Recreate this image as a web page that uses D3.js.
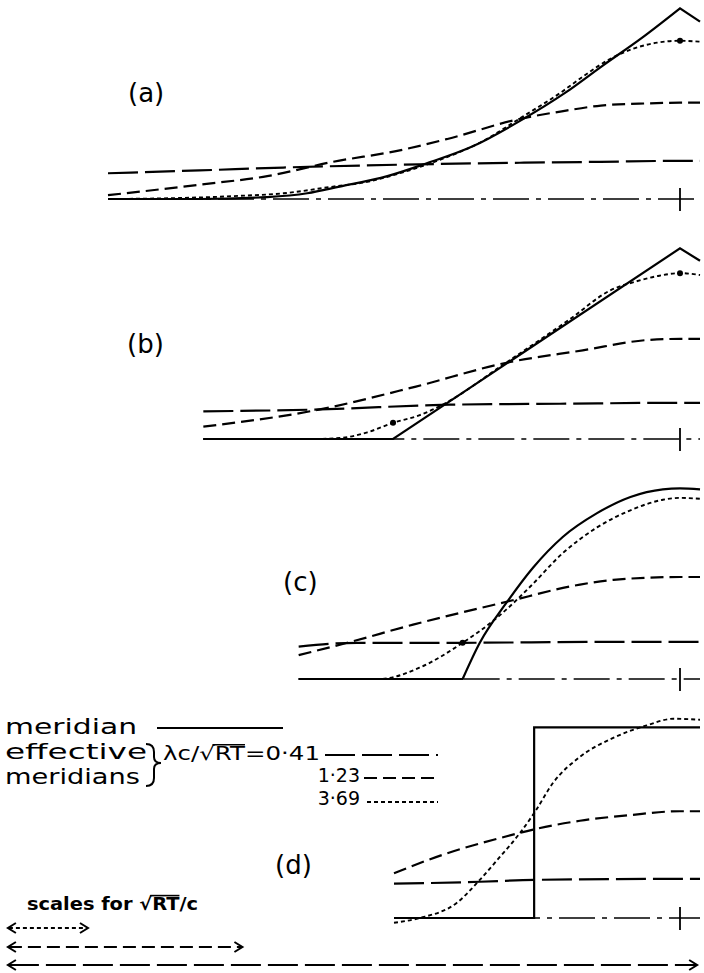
<!DOCTYPE html>
<html><head><meta charset="utf-8">
<script src="https://cdn.jsdelivr.net/npm/d3@7"></script>
<style>html,body{margin:0;padding:0;background:#fff}svg{display:block}</style>
</head><body>
<script>
// ---------- data (x: distance from panel tick, y: height above base line; same unit on both axes) ----------
const panelLabels = ["(a)", "(b)", "(c)", "(d)"];
const seriesNames = ["meridian", "0·41", "1·23", "3·69"];
const legendValues = ["0·41", "1·23", "3·69"];

const meridianA = [[-6,0],[-5.04,0],[-4.33,0.02],[-3.91,0.06],[-3.57,0.13],[-3.07,0.24],[-2.67,0.37],[-2.18,0.55],[-1.66,0.83],[-1.21,1.11],[-0.81,1.40],[-0.40,1.69],[0,2.0],[0.21,1.86]];
const long041A = [[-6,0.27],[-5.04,0.30],[-4.16,0.33],[-2.94,0.36],[-1.68,0.38],[-0.84,0.39],[0,0.40],[0.21,0.40]];
const dash123A = [[-6,0.04],[-5.04,0.15],[-4.33,0.24],[-3.64,0.39],[-2.94,0.51],[-2.44,0.63],[-1.68,0.84],[-1.24,0.92],[-0.83,0.98],[-0.43,1.0],[0,1.01],[0.21,1.01]];
const dot369A = [[-6,0],[-5.25,0.01],[-4.69,0.03],[-4.16,0.06],[-3.64,0.13],[-3.28,0.18],[-2.94,0.27],[-2.52,0.41],[-2.10,0.59],[-1.64,0.87],[-1.26,1.11],[-1.01,1.29],[-0.75,1.46],[-0.48,1.58],[-0.24,1.64],[0,1.66],[0.21,1.65]];

const meridianB = [[-5,0],[-3.01,0],[0,2.0],[0.21,1.87]];
const long041B = [[-5,0.29],[-3.77,0.31],[-2.42,0.36],[-1.26,0.37],[0,0.38],[0.21,0.38]];
const dash123B = [[-5,0.13],[-3.83,0.30],[-2.77,0.55],[-1.82,0.80],[-1.02,0.93],[-0.32,1.04],[0,1.05],[0.21,1.05]];
const dot369B = [[-5,0],[-3.85,0],[-3.57,0.01],[-3.28,0.07],[-3.01,0.17],[-2.73,0.25],[-2.49,0.36],[-1.84,0.79],[-1.15,1.26],[-0.73,1.56],[-0.47,1.65],[-0.23,1.71],[0,1.74],[0.21,1.72]];

const meridianC = [[-4,0],[-2.28,0],[-2.10,0.38],[-1.82,0.80],[-1.54,1.17],[-1.23,1.49],[-0.87,1.74],[-0.52,1.91],[-0.18,1.99],[0,2.0],[0.21,1.99]];
const long041C = [[-4,0.34],[-3.39,0.38],[-2.28,0.38],[-0.84,0.39],[0,0.39],[0.21,0.39]];
const dash123C = [[-4,0.25],[-3.49,0.38],[-2.80,0.57],[-1.82,0.81],[-1.05,0.99],[-0.70,1.04],[0,1.07],[0.21,1.07]];
const dot369C = [[-4,0],[-3.15,0],[-2.73,0.12],[-2.28,0.38],[-1.96,0.61],[-1.82,0.73],[-1.57,0.97],[-1.23,1.32],[-0.87,1.59],[-0.52,1.77],[-0.18,1.88],[0,1.90],[0.21,1.89]];

const meridianD = [[-3,0],[-1.53,0],[-1.53,2.0],[0.21,2.0]];
const long041D = [[-3,0.36],[-2.10,0.38],[-1.53,0.40],[0,0.41],[0.21,0.41]];
const dash123D = [[-3,0.47],[-2.44,0.68],[-1.92,0.83],[-1.53,0.93],[-1.05,1.02],[-0.52,1.08],[0,1.12],[0.21,1.12]];
const dot369D = [[-3,-0.05],[-2.73,0],[-2.34,0.16],[-2.10,0.40],[-1.89,0.64],[-1.68,0.89],[-1.53,1.10],[-1.33,1.42],[-1.05,1.69],[-0.70,1.89],[-0.35,2.02],[-0.07,2.09],[0.21,2.08]];

// indices where the meridian has a sharp corner
const meridianCorners = [[12], [1, 2], [1], [1, 2]];
// heavy points printed on the 3·69 curves
const markA = [[0,1.66]], markB = [[-3.01,0.17],[0,1.74]], markC = [[-2.28,0.38]], markD = [];

// scale bars for sqrt(RT)/c (one per lambda c / sqrt(RT) value)
const scaleBarStart = -7.05;
const scaleBarLengths = [0.84, 2.46, 7.23];

// ---------- layout ----------
const W = 704, H = 973;
const panelBase = [199, 439, 679, 918];
const labelPos = [[128, 102], [127, 353], [283, 591], [275, 874]];
const unitPx = 95.33;

const panels = [
  {m: meridianA, l: long041A, d: dash123A, s: dot369A, mk: markA},
  {m: meridianB, l: long041B, d: dash123B, s: dot369B, mk: markB},
  {m: meridianC, l: long041C, d: dash123C, s: dot369C, mk: markC},
  {m: meridianD, l: long041D, d: dash123D, s: dot369D, mk: markD}
];

const styles = {
  meridian: {dash: null, w: 2.2},
  l: {dash: "30,7", w: 2.2},
  d: {dash: "13,6", w: 2.2},
  s: {dash: "4,3", w: 1.9},
  base: {dash: "36,7,5,7", w: 1.6}
};

const svg = d3.select("body").append("svg").attr("width", W).attr("height", H)
  .attr("font-family", "DejaVu Sans, sans-serif");
svg.append("rect").attr("width", W).attr("height", H).attr("fill", "#fff");

const x = d3.scaleLinear().domain([-6, 0]).range([108, 680]);

panels.forEach((p, i) => {
  const base = panelBase[i];
  const y = d3.scaleLinear().domain([0, 2]).range([base, base - 2 * unitPx]);
  const g = svg.append("g");
  const line = d3.line().x(d => x(d[0])).y(d => y(d[1])).curve(d3.curveMonotoneX);

  // base line (dash-dot) with tick at x = 0
  const xs = p.m[0][0], xe = p.m[p.m.length - 1][0];
  g.append("path").attr("d", d3.line().x(d => x(d[0])).y(d => y(d[1]))([[xs, 0], [xe, 0]]))
    .attr("fill", "none").attr("stroke", "#000").attr("stroke-width", styles.base.w)
    .attr("stroke-dasharray", styles.base.dash);
  g.append("line").attr("x1", x(0)).attr("x2", x(0)).attr("y1", base - 11).attr("y2", base + 12)
    .attr("stroke", "#000").attr("stroke-width", 1.8);

  [["l", p.l], ["d", p.d], ["s", p.s]].forEach(([k, data]) => {
    g.append("path").attr("d", line(data)).attr("fill", "none").attr("stroke", "#000")
      .attr("stroke-width", styles[k].w).attr("stroke-dasharray", styles[k].dash);
  });

  // meridian, split at corners
  const cuts = [0, ...meridianCorners[i], p.m.length - 1];
  let dstr = "";
  for (let c = 0; c < cuts.length - 1; c++) {
    const seg = p.m.slice(cuts[c], cuts[c + 1] + 1);
    const s = line(seg);
    dstr += c ? s.replace(/^M/, "L") : s;
  }
  g.append("path").attr("d", dstr).attr("fill", "none").attr("stroke", "#000")
    .attr("stroke-width", styles.meridian.w).attr("stroke-linejoin", "miter");

  g.selectAll("circle").data(p.mk).join("circle")
    .attr("cx", d => x(d[0])).attr("cy", d => y(d[1])).attr("r", 3).attr("fill", "#000");

  svg.append("text").attr("x", labelPos[i][0]).attr("y", labelPos[i][1])
    .attr("font-size", 26).text(panelLabels[i]);
});

// ---------- legend ----------
const leg = svg.append("g");
leg.append("text").attr("x", 5).attr("y", 734).attr("font-size", 21)
  .attr("textLength", 132).attr("lengthAdjust", "spacingAndGlyphs").text(seriesNames[0]);
leg.append("line").attr("x1", 157).attr("x2", 283).attr("y1", 728).attr("y2", 728)
  .attr("stroke", "#000").attr("stroke-width", 2.2);
leg.append("text").attr("x", 5).attr("y", 759).attr("font-size", 21)
  .attr("textLength", 142).attr("lengthAdjust", "spacingAndGlyphs").text("effective");
leg.append("text").attr("x", 5).attr("y", 784).attr("font-size", 21)
  .attr("textLength", 135).attr("lengthAdjust", "spacingAndGlyphs").text("meridians");
leg.append("path").attr("d", "M146,744 Q154,744 154,752 L154,757 Q154,763 161,763 Q154,763 154,769 L154,778 Q154,786 146,786")
  .attr("fill", "none").attr("stroke", "#000").attr("stroke-width", 2);

const lamText = leg.append("text").attr("x", 163).attr("y", 760).attr("font-size", 19)
  .attr("textLength", 157).attr("lengthAdjust", "spacingAndGlyphs")
  .text("λc/√RT=" + legendValues[0]);
leg.append("text").attr("x", 360).attr("y", 782).attr("font-size", 19).attr("text-anchor", "end").text(legendValues[1]);
leg.append("text").attr("x", 360).attr("y", 805).attr("font-size", 19).attr("text-anchor", "end").text(legendValues[2]);
const legLines = [[325, 755, "l"], [364, 778, "d"], [367, 802, "s"]];
legLines.forEach(([x1, yy, k]) => {
  leg.append("line").attr("x1", x1).attr("x2", 438).attr("y1", yy).attr("y2", yy)
    .attr("stroke", "#000").attr("stroke-width", styles[k].w).attr("stroke-dasharray", styles[k].dash);
});

function overline(textSel, i0, i1, fs) {
  const node = textSel.node();
  const a = node.getExtentOfChar(i0), b = node.getExtentOfChar(i1);
  const yb = +textSel.attr("y");
  svg.append("line").attr("x1", a.x + a.width * 0.85).attr("x2", b.x + b.width)
    .attr("y1", yb - fs * 0.8).attr("y2", yb - fs * 0.8)
    .attr("stroke", "#000").attr("stroke-width", 1.6);
}
overline(lamText, 3, 5, 19);

// ---------- scale bars ----------
const scTxt = svg.append("text").attr("x", 27).attr("y", 910).attr("font-size", 18)
  .attr("font-weight", "bold").attr("textLength", 171).attr("lengthAdjust", "spacingAndGlyphs")
  .text("scales for √RT/c");
overline(scTxt, 11, 13, 18);

const barY = [928, 947, 965];
const barStyle = ["s", "d", "l"];
scaleBarLengths.forEach((len, i) => {
  const x0 = x(scaleBarStart), x1 = x(scaleBarStart + len), yy = barY[i];
  svg.append("line").attr("x1", x0 + 1).attr("x2", x1 - 1).attr("y1", yy).attr("y2", yy)
    .attr("stroke", "#000").attr("stroke-width", 2).attr("stroke-dasharray", styles[barStyle[i]].dash);
  svg.append("path").attr("d", `M${x0 + 8},${yy - 5} L${x0},${yy} L${x0 + 8},${yy + 5}`)
    .attr("fill", "none").attr("stroke", "#000").attr("stroke-width", 2);
  svg.append("path").attr("d", `M${x1 - 8},${yy - 5} L${x1},${yy} L${x1 - 8},${yy + 5}`)
    .attr("fill", "none").attr("stroke", "#000").attr("stroke-width", 2);
});
</script>
</body></html>
